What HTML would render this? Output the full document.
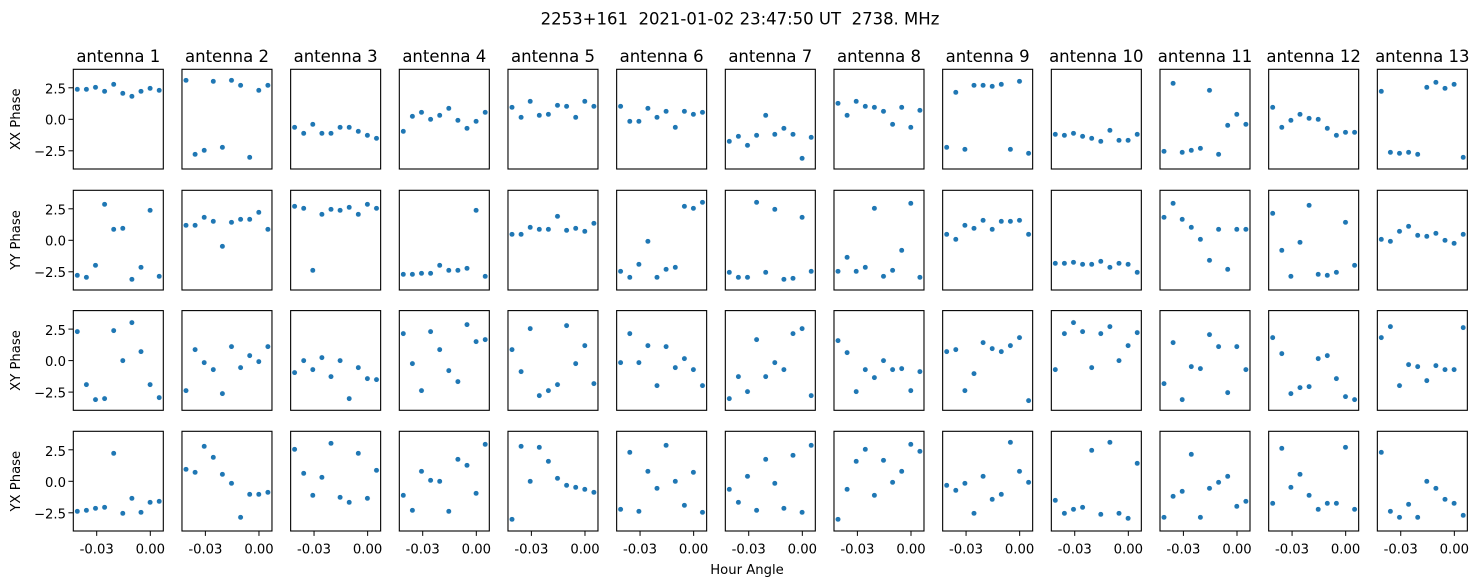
<!DOCTYPE html>
<html><head><meta charset="utf-8"><style>
html,body{margin:0;padding:0;background:#fff;}
svg{display:block;font-family:"DejaVu Sans","Liberation Sans",sans-serif;}
</style></head><body>
<svg id="s" width="1481" height="586" viewBox="0 0 1481 586" xmlns="http://www.w3.org/2000/svg">
<rect width="1481" height="586" fill="#fff"/>
<text x="740" y="24.5" font-size="16.5" text-anchor="middle" style="white-space:pre" xml:space="preserve">2253+161&#160; 2021-01-02 23:47:50 UT&#160; 2738. MHz</text>
<g font-size="16.5" text-anchor="middle">
<text x="118.3" y="62">antenna 1</text>
<text x="227" y="62">antenna 2</text>
<text x="335.6" y="62">antenna 3</text>
<text x="444.3" y="62">antenna 4</text>
<text x="553" y="62">antenna 5</text>
<text x="661.6" y="62">antenna 6</text>
<text x="770.3" y="62">antenna 7</text>
<text x="879" y="62">antenna 8</text>
<text x="987.6" y="62">antenna 9</text>
<text x="1096.3" y="62">antenna 10</text>
<text x="1205" y="62">antenna 11</text>
<text x="1313.6" y="62">antenna 12</text>
<text x="1422.3" y="62">antenna 13</text>
</g>
<g font-size="13.2">
<text transform="translate(20,119.2) rotate(-90)" text-anchor="middle">XX Phase</text>
<text transform="translate(20,240) rotate(-90)" text-anchor="middle">YY Phase</text>
<text transform="translate(20,360.5) rotate(-90)" text-anchor="middle">XY Phase</text>
<text transform="translate(20,481.2) rotate(-90)" text-anchor="middle">YX Phase</text>
<text x="747" y="574" text-anchor="middle">Hour Angle</text>
</g>
<g id="ylab" font-size="13.2" text-anchor="end">
<text x="66" y="93.5">2.5</text><text x="66" y="124.5">0.0</text><text x="66" y="156">−2.5</text>
<text x="66" y="214.5">2.5</text><text x="66" y="245.5">0.0</text><text x="66" y="277">−2.5</text>
<text x="66" y="335">2.5</text><text x="66" y="366">0.0</text><text x="66" y="397.5">−2.5</text>
<text x="66" y="456">2.5</text><text x="66" y="487">0.0</text><text x="66" y="518.5">−2.5</text>
</g>
<g id="xlab" font-size="13.2" text-anchor="middle">
<text x="96.7" y="553.5">-0.03</text><text x="150.3" y="553.5">0.00</text>
<text x="205.4" y="553.5">-0.03</text><text x="259" y="553.5">0.00</text>
<text x="314" y="553.5">-0.03</text><text x="367.6" y="553.5">0.00</text>
<text x="422.7" y="553.5">-0.03</text><text x="476.3" y="553.5">0.00</text>
<text x="531.4" y="553.5">-0.03</text><text x="585" y="553.5">0.00</text>
<text x="640" y="553.5">-0.03</text><text x="693.6" y="553.5">0.00</text>
<text x="748.7" y="553.5">-0.03</text><text x="802.3" y="553.5">0.00</text>
<text x="857.4" y="553.5">-0.03</text><text x="911" y="553.5">0.00</text>
<text x="966" y="553.5">-0.03</text><text x="1019.6" y="553.5">0.00</text>
<text x="1074.7" y="553.5">-0.03</text><text x="1128.3" y="553.5">0.00</text>
<text x="1183.4" y="553.5">-0.03</text><text x="1237" y="553.5">0.00</text>
<text x="1292" y="553.5">-0.03</text><text x="1345.6" y="553.5">0.00</text>
<text x="1400.7" y="553.5">-0.03</text><text x="1454.3" y="553.5">0.00</text>
</g>
<g id="g"></g>
</svg>
<script>
var D=[
[[60,60,54,66,45,72,81,66,57,63],[33,255,243,36,234,33,48,264,63,48],[174,192,165,192,192,174,174,186,198,207],[186,141,129,150,138,117,153,177,156,129],[114,144,96,138,135,108,111,144,96,111],[111,156,156,117,144,126,174,126,135,129],[216,201,228,198,138,195,177,195,267,204],[102,138,96,111,114,126,165,114,174,123],[234,69,240,48,48,51,45,240,36,252],[195,198,192,201,207,216,183,213,213,195],[246,42,249,243,237,63,255,168,135,165],[114,174,153,135,147,150,177,198,189,189],[66,249,252,249,255,54,39,57,45,264]],
[[255,261,225,42,117,114,267,231,60,258],[105,105,81,93,168,96,87,87,66,117],[48,54,240,72,57,60,51,72,42,54],[252,252,249,249,225,240,240,234,60,258],[132,132,111,117,117,78,120,114,123,99],[243,261,222,153,261,237,231,48,54,36],[246,261,261,36,246,57,267,264,81,243],[243,201,243,231,54,258,240,180,39,261],[132,147,105,114,90,117,93,93,90,132],[219,219,216,222,222,213,231,219,222,246],[81,39,87,111,147,210,117,237,117,117],[69,180,258,156,45,252,255,246,96,225],[147,153,123,108,135,138,129,150,159,132]],
[[63,222,267,264,60,150,36,123,222,261],[240,117,156,177,249,108,171,135,153,108],[186,150,177,141,198,150,264,171,204,207],[69,159,240,63,117,180,213,42,93,87],[117,183,54,255,240,222,45,159,105,219],[156,69,156,105,225,108,171,144,177,225],[264,198,243,87,198,156,177,69,54,255],[90,126,243,177,201,150,177,174,240,183],[123,117,240,189,96,114,123,105,81,270],[177,69,36,63,171,69,48,150,105,66],[219,96,267,168,174,72,108,246,108,177],[81,129,249,231,228,144,135,204,258,267],[81,48,225,162,168,210,165,177,177,51]],
[[240,237,231,228,66,246,201,243,213,210],[114,123,45,78,129,156,258,189,189,183],[54,126,192,138,36,198,213,66,201,117],[192,237,120,147,150,240,84,102,186,39],[264,45,150,48,90,141,162,168,174,183],[234,63,240,120,171,42,150,222,123,243],[174,213,135,237,84,156,231,72,243,42],[264,174,90,54,192,87,153,120,39,60],[162,177,156,246,135,204,189,33,120,153],[207,246,234,228,57,249,33,246,261,96],[258,195,180,69,258,171,153,135,225,210],[216,51,168,129,192,234,216,216,48,234],[63,240,258,219,258,150,171,204,216,252]]
];
var tops=[69.3,190.3,310.6,431.3],H=99.7,W=90,s="";
for(var r=0;r<4;r++)for(var c=0;c<13;c++){
 var L=73.3+108.67*c,T=tops[r];
 s+='<rect x="'+L+'" y="'+T+'" width="'+W+'" height="'+H+'" fill="none" stroke="#000" stroke-width="1.1"/>';
 if(c==0){[18.5,50,81.5].forEach(function(o){s+='<line x1="'+(L-4.9)+'" x2="'+L+'" y1="'+(T+o)+'" y2="'+(T+o)+'" stroke="#000" stroke-width="1"/>';});}
 if(r==3){[23.4,77].forEach(function(o){s+='<line x1="'+(L+o)+'" x2="'+(L+o)+'" y1="'+(T+H)+'" y2="'+(T+H+4.9)+'" stroke="#000" stroke-width="1"/>';});}
 var d=D[r][c];
 for(var i=0;i<10;i++){s+='<circle cx="'+(L+4+i*9.1).toFixed(1)+'" cy="'+(T+d[i]/3).toFixed(1)+'" r="2.7" fill="#1f77b4" stroke="#fff" stroke-width="0.5"/>';}
}
document.getElementById("g").innerHTML=s;
</script>
</body></html>
